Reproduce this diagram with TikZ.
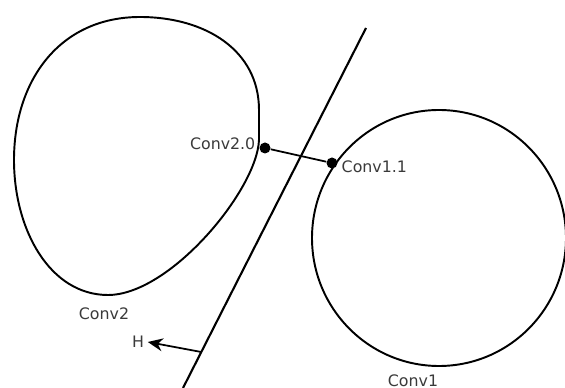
\documentclass[tikz,border=0pt]{standalone}
\usepackage{fontspec}
\setmainfont{DejaVu Sans}
\usepackage{tikz}
\usetikzlibrary{arrows.meta,positioning,calc}
\definecolor{labelgray}{HTML}{3A3A3A}

\begin{document}
\begin{tikzpicture}[
  x=0.02cm, y=-0.02cm,
  font=\fontsize{9}{11}\selectfont,
  region/.style={draw=black, line width=1.1pt},
  plane/.style={draw=black, line width=1.2pt},
  dot/.style={circle, fill=black, inner sep=0pt, minimum size=0.22cm},
  lbl/.style={text=labelgray, inner sep=2pt},
  arr/.style={-{Stealth[length=3mm, width=2.6mm]}, line width=1pt}
]
\useasboundingbox (0,0) rectangle (565,388);
% Conv2 region
\draw[region] (140,17) .. controls (205,17) and (259,50) .. (259,110)
  -- (259,140) .. controls (257,190) and (170,295) .. (108,295)
  .. controls (50,295) and (14,230) .. (14,160)
  .. controls (14,80) and (60,17) .. cycle;
% Conv1 region
\draw[region] (439,238) ellipse [x radius=127, y radius=128];
% separating line
\coordinate (ht) at (366,28);
\coordinate (hb) at (183,388);
\draw[plane] (ht) -- (hb);
\coordinate (hfoot) at ($(ht)!0.9!(hb)$);
% closest points
\node[dot] (c20) at (265,148) {};
\node[dot] (c11) at (332,163) {};
\draw[line width=1pt] (c20) -- (c11);
\node[lbl, anchor=east] (l20) at ($(c20.west)+(0,-4)$) {Conv2.0};
\node[lbl, anchor=west] (l11) at ($(c11.east)+(0,4)$) {Conv1.1};
% region names
\node[lbl] (n2) at (104,314) {Conv2};
\node[lbl] (n1) at (413,381) {Conv1};
% normal
\node[lbl] (h) at (138,342) {H};
\draw[arr] (hfoot) -- (h.east);
\end{tikzpicture}
\end{document}
